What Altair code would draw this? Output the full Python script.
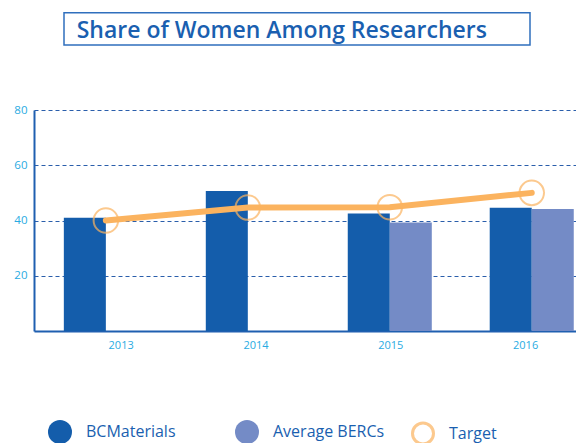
import altair as alt
import pandas as pd

years = ["2013", "2014", "2015", "2016"]
bcmaterials = [41, 50.7, 42.5, 44.6]
average_bercs = [None, None, 39.3, 44.2]
target = [40, 44.7, 44.8, 50]
series_names = ["BCMaterials", "Average BERCs"]
title_text = "Share of Women Among Researchers"

DARK = "#145DAB"
LIGHT = "#748BC6"
ORANGE = "#FBB35F"
TEXT_BLUE = "#1A5FB0"
TICK_BLUE = "#29ABE2"
AXIS_BLUE = "#1F5FB0"

rows = []
for y, a, b in zip(years, bcmaterials, average_bercs):
    if a is not None:
        rows.append({"year": y, "series": series_names[0], "value": a})
    if b is not None:
        rows.append({"year": y, "series": series_names[1], "value": b})
bar_df = pd.DataFrame(rows)
line_df = pd.DataFrame({"year": years, "value": target, "series": ["Target"] * len(years)})

x_enc = alt.X(
    "year:N",
    scale=alt.Scale(domain=years, paddingInner=0.408, paddingOuter=0.113, align=0.93),
    axis=alt.Axis(title=None, labels=False, ticks=False, orient="bottom",
                  domainColor=AXIS_BLUE, domainWidth=2),
)
y_enc = alt.Y(
    "value:Q",
    scale=alt.Scale(domain=[0, 80], nice=False),
    axis=alt.Axis(title=None, values=[20, 40, 60, 80], grid=True, gridDash=[4, 3],
                  gridColor="#2A5EAB", gridWidth=1, ticks=False, labelColor=TICK_BLUE,
                  labelFont="Open Sans", labelFontSize=11.5, labelPadding=7,
                  domainColor=AXIS_BLUE, domainWidth=2),
)

bars = alt.Chart(bar_df).mark_bar().encode(
    x=x_enc,
    xOffset=alt.XOffset("series:N", scale=alt.Scale(domain=series_names, paddingInner=0, paddingOuter=0)),
    y=y_enc,
    color=alt.Color(
        "series:N",
        scale=alt.Scale(domain=series_names, range=[DARK, LIGHT]),
        legend=alt.Legend(orient="none", legendX=14, legendY=310, direction="horizontal",
                          title=None, symbolType="circle", symbolSize=576, symbolStrokeWidth=0,
                          labelFont="Open Sans", labelFontSize=16, labelColor=TEXT_BLUE,
                          labelOffset=14, columnPadding=59, padding=0),
    ),
)

line = alt.Chart(line_df).mark_line(color=ORANGE, strokeWidth=6, strokeCap="round").encode(
    x=alt.X("year:N"), y=alt.Y("value:Q")
)

points = alt.Chart(line_df).mark_point(shape="circle", size=600, filled=False, strokeWidth=2).encode(
    x=alt.X("year:N"),
    y=alt.Y("value:Q"),
    stroke=alt.Stroke(
        "series:N",
        scale=alt.Scale(domain=["Target"], range=[ORANGE]),
        legend=alt.Legend(orient="none", legendX=377, legendY=311.5, title=None,
                          symbolType="circle", symbolSize=441, symbolStrokeWidth=3,
                          symbolFillColor="white",
                          labelFont="Open Sans", labelFontSize=16, labelColor=TEXT_BLUE,
                          labelOffset=14, padding=0),
    ),
)

main = alt.layer(bars, line, points)

# label-only axis for the year labels
label_axis = alt.Chart(line_df).mark_point(opacity=0).encode(
    x=alt.X("year:N",
            scale=alt.Scale(type="point", domain=years, padding=0.51, align=0.63),
            axis=alt.Axis(title=None, labelAngle=0, ticks=False, domain=False, orient="bottom",
                          labelColor=TICK_BLUE, labelFont="Open Sans", labelFontSize=11,
                          labelPadding=8)),
    y=alt.Y("value:Q"),
)

title_df = pd.DataFrame({"t": [title_text]})
title_mark = alt.Chart(title_df).mark_text(
    align="left", baseline="alphabetic", font="Open Sans", fontSize=23, fontWeight=600,
    color=TEXT_BLUE,
).encode(text="t:N", x=alt.value(42.7), y=alt.value(-72.3))

box = alt.Chart(title_df).mark_rect(fillOpacity=0, stroke="#2F6FBD", strokeWidth=1.5).encode(
    x=alt.value(30), x2=alt.value(496), y=alt.value(-97.3), y2=alt.value(-65)
)

chart = alt.layer(main, label_axis, title_mark, box).resolve_scale(x="independent").properties(
    width=542, height=221,
    padding={"left": 5, "top": 3, "right": 0, "bottom": 0},
).configure_view(stroke=None)

chart.save("out.html", embed_options={"renderer": "svg", "actions": False})
